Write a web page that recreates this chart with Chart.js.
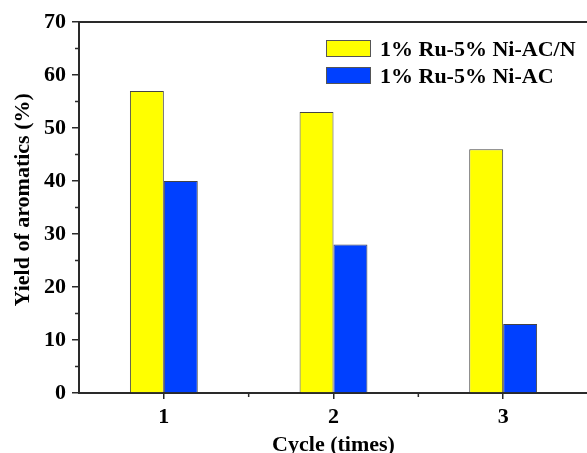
<!DOCTYPE html>
<html>
<head>
<meta charset="utf-8">
<script src="https://cdn.jsdelivr.net/npm/chart.js@4"></script>
<style>
  html, body { margin: 0; padding: 0; background: #fff; overflow: hidden; }
  #wrap { position: relative; width: 595px; height: 453px; }
  #legend {
    position: absolute; left: 326px; top: 35px;
    font: bold 22px "Liberation Serif", "Times New Roman", serif; color: #000;
  }
  #legend div { display: flex; align-items: center; height: 27px; }
  #legend span.box {
    display: inline-block; width: 43px; height: 15px;
    border: 1px solid #555; margin-right: 9px;
  }
</style>
</head>
<body>
<div id="wrap">
  <canvas id="chart" width="595" height="453"></canvas>
  <div id="legend"></div>
</div>
<script>
const categories = ["1", "2", "3"];
const ruNiACN = [57, 53, 46];
const ruNiAC = [40, 28, 13];
const seriesLabels = ["1% Ru-5% Ni-AC/N", "1% Ru-5% Ni-AC"];
const seriesColors = ["#ffff00", "#0040ff"];
const yTicks = [0, 10, 20, 30, 40, 50, 60, 70];

const axisColor = "#2a2a2a";
const font = { family: "'Liberation Serif', 'Times New Roman', serif", weight: "bold", size: 22 };

// box around the plot and the small ticks between the labelled ones
const frame = {
  id: "frame",
  afterDraw(chart) {
    const { ctx, chartArea: a, scales: { x, y } } = chart;
    ctx.save();
    ctx.strokeStyle = axisColor;
    ctx.lineWidth = 2;
    ctx.beginPath();
    ctx.moveTo(a.left, a.top);
    ctx.lineTo(a.right, a.top);
    ctx.lineTo(a.right, a.bottom);
    ctx.stroke();

    ctx.lineWidth = 1.5;
    ctx.beginPath();
    for (let i = 0; i < yTicks.length - 1; i++) {
      const py = y.getPixelForValue((yTicks[i] + yTicks[i + 1]) / 2);
      ctx.moveTo(a.left - 4, py);
      ctx.lineTo(a.left, py);
    }
    for (let i = 0; i < categories.length - 1; i++) {
      const px = x.getPixelForValue(i + 0.5);
      ctx.moveTo(px, a.bottom);
      ctx.lineTo(px, a.bottom + 4);
    }
    ctx.stroke();
    ctx.restore();
  }
};

const chart = new Chart(document.getElementById("chart"), {
  type: "bar",
  data: {
    labels: categories,
    datasets: [
      { label: seriesLabels[0], data: ruNiACN, backgroundColor: seriesColors[0] },
      { label: seriesLabels[1], data: ruNiAC, backgroundColor: seriesColors[1] }
    ]
  },
  options: {
    responsive: false,
    animation: false,
    layout: { padding: { top: 22, right: 7, left: 0, bottom: 0 } },
    datasets: {
      bar: { categoryPercentage: 0.4, barPercentage: 1, borderWidth: 1, borderColor: "#444" }
    },
    plugins: { legend: { display: false }, tooltip: { enabled: false } },
    scales: {
      x: {
        grid: { drawOnChartArea: false, offset: false, tickLength: 6, color: axisColor, lineWidth: 1.5 },
        border: { color: axisColor, width: 2 },
        ticks: { color: "#000", font: font, padding: 5 },
        title: { display: true, text: "Cycle (times)", color: "#000", font: font, padding: { top: 0, bottom: -6 } },
        afterFit(scale) { scale.height = 60; }
      },
      y: {
        min: 0,
        max: 70,
        grid: { drawOnChartArea: false, tickLength: 7, color: axisColor, lineWidth: 1.5 },
        border: { color: axisColor, width: 2 },
        ticks: { stepSize: 10, color: "#000", font: font, padding: 6 },
        // leading spaces nudge the rotated title a little up, as in the original
        title: { display: true, text: "\u2002\u2009Yield of aromatics (%)", color: "#000", font: font, padding: { top: 10, bottom: 0 } },
        afterFit(scale) { scale.width = 79; }
      }
    }
  },
  plugins: [frame]
});

// legend drawn as html, placed inside the plot at the top right
const legend = document.getElementById("legend");
chart.data.datasets.forEach(ds => {
  const row = document.createElement("div");
  const box = document.createElement("span");
  box.className = "box";
  box.style.background = ds.backgroundColor;
  row.appendChild(box);
  row.appendChild(document.createTextNode(ds.label));
  legend.appendChild(row);
});
</script>
</body>
</html>
